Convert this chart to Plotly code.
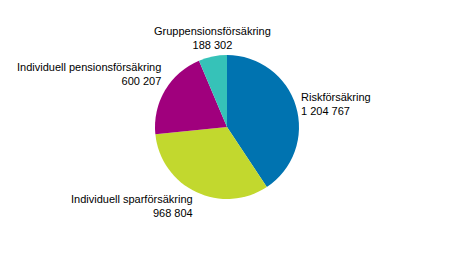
import plotly.graph_objects as go

categories = ["Riskförsäkring", "Individuell sparförsäkring", "Individuell pensionsförsäkring", "Gruppensionsförsäkring"]
values = [1204767, 968804, 600207, 188302]
value_labels = ["1 204 767", "968 804", "600 207", "188 302"]
colors = ["#0073b0", "#c2d82e", "#a0007d", "#36c2b8"]

W, H = 454, 253

fig = go.Figure(go.Pie(
    labels=categories,
    values=values,
    sort=False,
    direction="clockwise",
    rotation=0,
    marker=dict(colors=colors, line=dict(width=0)),
    textinfo="none",
    hoverinfo="label+value",
    domain=dict(x=[155 / W, 299 / W], y=[1 - 199 / H, 1 - 55 / H]),
    showlegend=False,
))

# label positions (pixels) and anchors
label_pos = [
    (299, 104, "left", "left"),
    (195, 206, "right", "right"),
    (163, 74, "right", "right"),
    (212, 38, "center", "center"),
]
for cat, vl, (px, py, xa, al) in zip(categories, value_labels, label_pos):
    fig.add_annotation(
        x=px / W, y=1 - py / H, xref="paper", yref="paper",
        text=f"{cat}<br>{vl}", showarrow=False,
        xanchor=xa, yanchor="middle", align=al,
        font=dict(family="Liberation Sans, Arial", size=11, color="#000000"),
    )

fig.update_layout(
    width=W, height=H,
    margin=dict(l=0, r=0, t=0, b=0),
    paper_bgcolor="white",
    plot_bgcolor="white",
)

fig.write_html("out.html")
